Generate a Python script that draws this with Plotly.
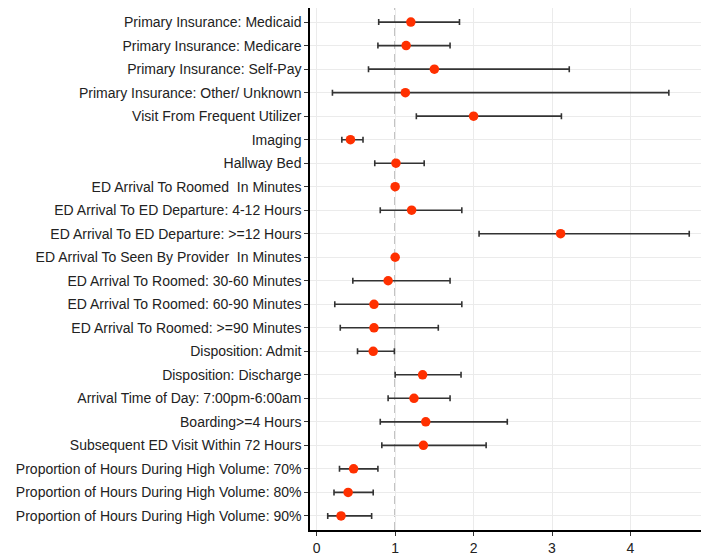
import plotly.graph_objects as go

categories = [
    "Primary Insurance: Medicaid",
    "Primary Insurance: Medicare",
    "Primary Insurance: Self-Pay",
    "Primary Insurance: Other/ Unknown",
    "Visit From Frequent Utilizer",
    "Imaging",
    "Hallway Bed",
    "ED Arrival To Roomed  In Minutes",
    "ED Arrival To ED Departure: 4-12 Hours",
    "ED Arrival To ED Departure: >=12 Hours",
    "ED Arrival To Seen By Provider  In Minutes",
    "ED Arrival To Roomed: 30-60 Minutes",
    "ED Arrival To Roomed: 60-90 Minutes",
    "ED Arrival To Roomed: >=90 Minutes",
    "Disposition: Admit",
    "Disposition: Discharge",
    "Arrival Time of Day: 7:00pm-6:00am",
    "Boarding>=4 Hours",
    "Subsequent ED Visit Within 72 Hours",
    "Proportion of Hours During High Volume: 70%",
    "Proportion of Hours During High Volume: 80%",
    "Proportion of Hours During High Volume: 90%",
]
estimate = [1.20, 1.14, 1.50, 1.13, 2.00, 0.43, 1.01, 1.00, 1.21, 3.11, 1.00,
            0.91, 0.73, 0.73, 0.72, 1.35, 1.24, 1.39, 1.36, 0.47, 0.40, 0.31]
lower = [0.79, 0.78, 0.66, 0.20, 1.27, 0.32, 0.74, 0.995, 0.81, 2.07, 0.995,
         0.46, 0.23, 0.30, 0.52, 1.00, 0.91, 0.81, 0.83, 0.29, 0.22, 0.14]
upper = [1.82, 1.70, 3.22, 4.49, 3.12, 0.59, 1.37, 1.005, 1.85, 4.75, 1.005,
         1.70, 1.85, 1.55, 0.99, 1.84, 1.70, 2.43, 2.16, 0.78, 0.72, 0.70]
x_ticks = [0, 1, 2, 3, 4]

err_plus = [u - e for u, e in zip(upper, estimate)]
err_minus = [e - l for e, l in zip(estimate, lower)]

fig = go.Figure()
fig.add_trace(go.Scatter(
    x=estimate, y=categories, mode="markers",
    marker=dict(color="#FF3000", size=9.5),
    error_x=dict(type="data", symmetric=False, array=err_plus, arrayminus=err_minus,
                 color="#333333", thickness=1.6, width=3),
    showlegend=False,
))

fig.add_shape(type="line", xref="x", yref="paper", x0=1, x1=1, y0=0, y1=1,
              line=dict(color="#9A9A9A", width=1.5, dash="8px,5px"), layer="below")

n = len(categories)
fig.update_layout(
    width=701, height=556,
    margin=dict(l=310, r=0, t=8, b=20),
    paper_bgcolor="white", plot_bgcolor="white",
    font=dict(family="Liberation Sans, Arial, sans-serif", size=14, color="#222222"),
    xaxis=dict(range=[-0.086, 4.9], tickvals=x_ticks, showgrid=True, gridcolor="#EBEBEB",
               gridwidth=1, zeroline=False, showline=True, linecolor="black", linewidth=1.5,
               ticks="outside", ticklen=4, tickcolor="#333333", tickfont=dict(size=14)),
    yaxis=dict(categoryorder="array", categoryarray=categories[::-1],
               range=[-0.6, n - 0.4], showgrid=True, gridcolor="#EBEBEB", gridwidth=1,
               zeroline=False, showline=True, linecolor="black", linewidth=1.5,
               ticks="outside", ticklen=4, tickcolor="#333333", tickfont=dict(size=14)),
)

fig.write_html(
    "out.html",
    config={"displayModeBar": False},
    post_script="document.body.style.margin='0';document.body.style.overflow='hidden';",
)
